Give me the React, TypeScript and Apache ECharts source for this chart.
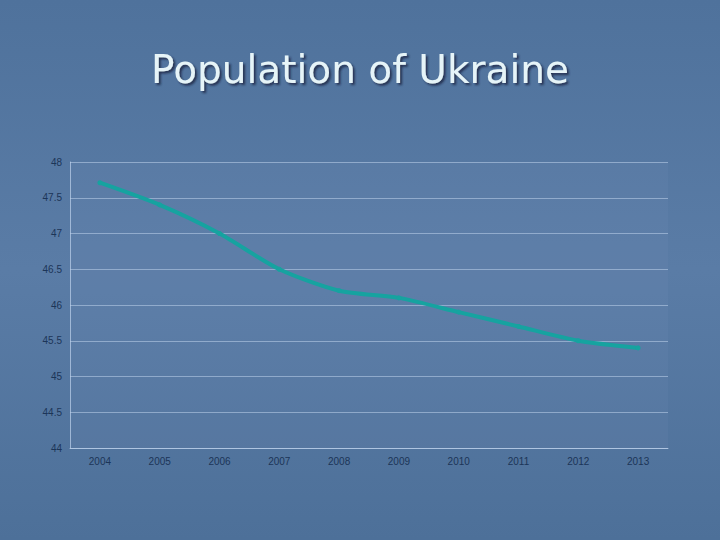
import React, { useEffect, useRef } from "react";
import * as echarts from "echarts";

const years = ["2004", "2005", "2006", "2007", "2008", "2009", "2010", "2011", "2012", "2013"];
const population = [47.71, 47.4, 47.0, 46.5, 46.2, 46.1, 45.9, 45.7, 45.5, 45.4];
const yTicks = ["44", "44.5", "45", "45.5", "46", "46.5", "47", "47.5", "48"];

export default function App() {
  const ref = useRef<HTMLDivElement>(null);
  useEffect(() => {
    if (!ref.current) return;
    const chart = echarts.init(ref.current, null, { renderer: "svg" });
    chart.setOption({
      animation: false,
      backgroundColor: {
        type: "linear", x: 0, y: 0, x2: 0, y2: 1,
        colorStops: [
          { offset: 0, color: "#4f729c" },
          { offset: 0.5, color: "#5a7ca6" },
          { offset: 1, color: "#4d7099" },
        ],
      },
      title: {
        text: "Population of Ukraine",
        left: "center",
        top: 45,
        textStyle: {
          fontFamily: "DejaVu Sans",
          fontSize: 39,
          fontWeight: "normal",
          color: "#e6f4f8",
          textShadowColor: "rgba(20,35,60,0.8)",
          textShadowOffsetX: 2,
          textShadowOffsetY: 2,
          textShadowBlur: 2,
        },
      },
      grid: { left: 70, right: 52, top: 162, bottom: 92, containLabel: false, show: true, backgroundColor: "rgba(120,150,190,0.12)", borderWidth: 0 },
      xAxis: {
        type: "category",
        data: years,
        boundaryGap: true,
        axisLine: { show: true, lineStyle: { color: "rgba(190,210,235,0.7)", width: 1 } },
        axisTick: { show: false },
        axisLabel: { color: "#1c3558", fontSize: 10, fontFamily: "Liberation Sans", margin: 8 },
      },
      yAxis: {
        type: "value",
        min: 44,
        max: 48,
        interval: 0.5,
        axisLine: { show: true, lineStyle: { color: "rgba(190,210,235,0.7)", width: 1 } },
        axisTick: { show: false },
        axisLabel: {
          color: "#1c3558",
          fontSize: 10,
          fontFamily: "Liberation Sans",
          margin: 8,
          formatter: (v: number) => {
            const s = String(v);
            return yTicks.includes(s) ? s : "";
          },
        },
        splitLine: { show: true, lineStyle: { color: "rgba(190,210,235,0.55)", width: 1 } },
      },
      series: [
        {
          type: "line",
          data: population,
          smooth: 0.25,
          symbol: "circle",
          symbolSize: 5,
          itemStyle: { color: "#16a3a0" },
          lineStyle: { color: "#16a3a0", width: 4 },
        },
      ],
    });
    return () => chart.dispose();
  }, []);
  return <div ref={ref} style={{ width: 720, height: 540, position: "absolute", left: 0, top: 0 }} />;
}
